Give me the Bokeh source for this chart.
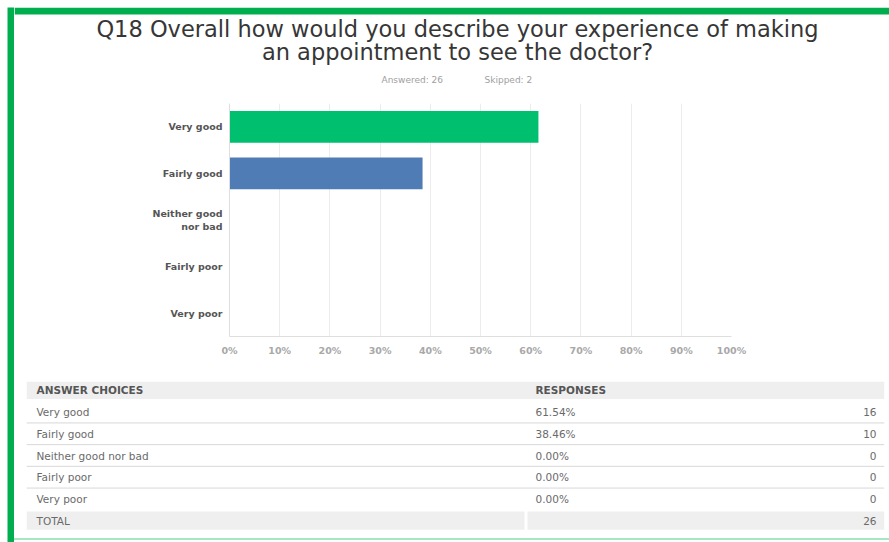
from bokeh.plotting import figure
from bokeh.models import Range1d, FactorRange, FixedTicker, ColumnDataSource, Spacer, PrintfTickFormatter
from bokeh.layouts import column, row
from bokeh.transform import dodge
from bokeh.embed import file_html
from bokeh.resources import INLINE
from bokeh.core.properties import value

# ---------------- data ----------------
title_lines = ["Q18 Overall how would you describe your experience of making",
               "an appointment to see the doctor?"]
answered = 26
skipped = 2
categories = ["Very good", "Fairly good", "Neither good nor bad", "Fairly poor", "Very poor"]
axis_labels = ["Very good", "Fairly good", "Neither good\nnor bad", "Fairly poor", "Very poor"]
percents = [61.54, 38.46, 0.00, 0.00, 0.00]
counts = [16, 10, 0, 0, 0]
bar_colors = ["#00BF6F", "#507CB6", "#507CB6", "#507CB6", "#507CB6"]
x_ticks = [0, 10, 20, 30, 40, 50, 60, 70, 80, 90, 100]
table_headers = ["ANSWER CHOICES", "RESPONSES"]
total_label = "TOTAL"

GREEN = "#00AE4F"
FONT = "DejaVu Sans"


def base(**kw):
    f = figure(output_backend="svg", toolbar_location=None, **kw)
    f.frame_align = False
    f.outline_line_color = None
    return f


# ---------------- header (with top green rule) ----------------
hdr = base(width=875, height=93, min_border=0, x_axis_type=None, y_axis_type=None,
           x_range=Range1d(14, 889), y_range=Range1d(100, 7))
hdr.grid.visible = False
hdr.quad(left=[14], right=[889], top=[7], bottom=[14], color=GREEN, line_color=None)
hdr.text(x=[457, 457], y=[28, 51], text=title_lines, text_align="center",
         text_baseline="middle", text_font=value(FONT), text_font_size="22.5px",
         text_color="#363636")
hdr.text(x=[381, 484], y=[79, 79], text=[f"Answered: {answered}", f"Skipped: {skipped}"],
         text_align="left", text_baseline="middle", text_font=value(FONT),
         text_font_size="9px", text_color="#a0a0a0")

# ---------------- bar chart ----------------
src = ColumnDataSource(dict(cat=axis_labels, pct=percents, color=bar_colors))
p = base(width=875, height=268,
         x_range=Range1d(0, 100), y_range=FactorRange(factors=axis_labels[::-1]),
         min_border_left=215, min_border_right=158, min_border_top=3, min_border_bottom=32)
p.hbar(y="cat", left=0, right="pct", height=0.68, color="color", line_color=None, source=src)
p.ygrid.visible = False
p.xgrid.ticker = FixedTicker(ticks=x_ticks)
p.xgrid.grid_line_color = "#ececec"
p.xaxis.ticker = FixedTicker(ticks=x_ticks)
p.xaxis.formatter = PrintfTickFormatter(format="%d%%")
for ax in (p.xaxis[0], p.yaxis[0]):
    ax.axis_line_color = "#dedede"
    ax.major_tick_line_color = None
    ax.minor_tick_line_color = None
    ax.major_tick_out = 0
    ax.major_tick_in = 0
    ax.major_label_text_font = FONT
    ax.major_label_text_font_style = "bold"
p.xaxis.major_label_text_font_size = "9.5px"
p.xaxis.major_label_text_color = "#a8a8a8"
p.xaxis.major_label_standoff = 8
p.yaxis.major_label_text_font_size = "9.5px"
p.yaxis.major_label_text_color = "#555555"
p.yaxis.major_label_standoff = 7

# ---------------- table ----------------
rows = [table_headers[0]] + categories + [total_label]
t = base(width=875, height=170, x_axis_type=None, y_axis_type=None,
         x_range=Range1d(0, 858), y_range=FactorRange(factors=rows[::-1]),
         min_border_left=12, min_border_right=5, min_border_top=11, min_border_bottom=7)
t.grid.visible = False
t.hbar(y=[rows[0], total_label, total_label], left=[0, 0, 501], right=[858, 498, 858],
       height=[0.8, 0.85, 0.85], color="#efefef", line_color=None)
sep = ColumnDataSource(dict(row=categories[:-1]))
t.segment(x0=0, x1=858, y0=dodge("row", -0.5, range=t.y_range),
          y1=dodge("row", -0.5, range=t.y_range), line_color="#d8d8d8", line_width=1, source=sep)
tsrc = ColumnDataSource(dict(row=categories,
                             pct=[f"{v:.2f}%" for v in percents],
                             cnt=[str(c) for c in counts]))
common = dict(text_baseline="middle", text_font=value(FONT), text_font_size="10.5px",
              text_color="#6a6a6a")
t.text(x=10, y="row", text="row", source=tsrc, **common)
t.text(x=509, y="row", text="pct", source=tsrc, **common)
t.text(x=850, y="row", text="cnt", source=tsrc, text_align="right", **common)
t.text(x=[10], y=[total_label], text=[total_label], **common)
t.text(x=[850], y=[total_label], text=[str(sum(counts))], text_align="right", **common)
t.text(x=[10, 509], y=[rows[0], rows[0]], text=table_headers, text_baseline="middle",
       text_font=value(FONT), text_font_size="10.5px", text_font_style="bold",
       text_color="#555555")

# ---------------- frame / layout ----------------
left_rule = base(width=7, height=535, min_border=0, x_axis_type=None, y_axis_type=None,
                 x_range=Range1d(0, 1), y_range=Range1d(0, 1))
left_rule.grid.visible = False
left_rule.background_fill_color = GREEN
left_rule.border_fill_color = GREEN

content = column(hdr, p, t,
                 Spacer(width=875, height=2, styles={"background-color": "#a6e6c2"}),
                 Spacer(width=875, height=2), spacing=0)
layout = column(
    Spacer(width=889, height=7),
    row(Spacer(width=7, height=535), left_rule, content, spacing=0),
    spacing=0,
)

open("out.html", "w").write(file_html(layout, INLINE))
